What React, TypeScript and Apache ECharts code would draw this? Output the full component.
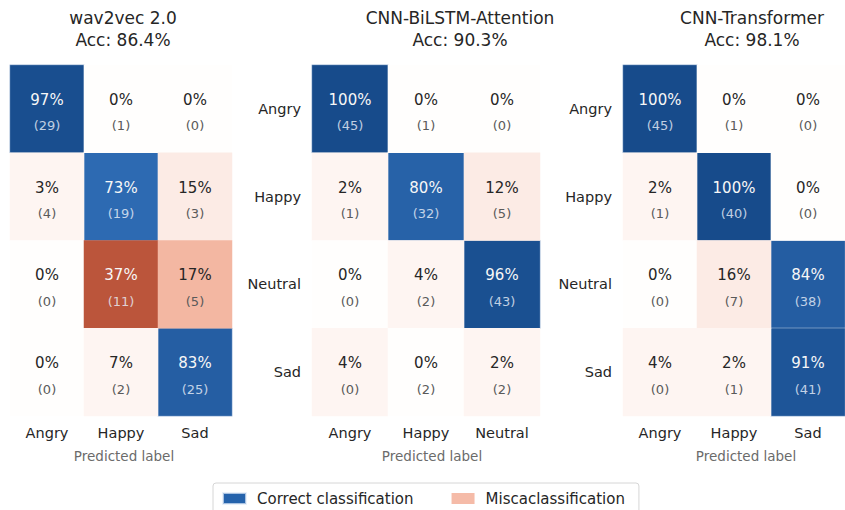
import React, { useEffect, useRef } from "react";
import * as echarts from "echarts";

// ---------- data ----------
const rowLabels = ["Angry", "Happy", "Neutral", "Sad"];
const modelNames = ["wav2vec 2.0", "CNN-BiLSTM-Attention", "CNN-Transformer"];
const accuracies = ["86.4%", "90.3%", "98.1%"];
const axisTitle = "Predicted label";
const legendNames = ["Correct classification", "Miscaclassification"];

const colLabels1 = ["Angry", "Happy", "Sad"];
const pct1 = [
  [97, 0, 0],
  [3, 73, 15],
  [0, 37, 17],
  [0, 7, 83],
];
const cnt1 = [
  [29, 1, 0],
  [4, 19, 3],
  [0, 11, 5],
  [0, 2, 25],
];
const correct1 = [
  [0, 0],
  [1, 1],
  [3, 2],
];

const colLabels2 = ["Angry", "Happy", "Neutral"];
const pct2 = [
  [100, 0, 0],
  [2, 80, 12],
  [0, 4, 96],
  [4, 0, 2],
];
const cnt2 = [
  [45, 1, 0],
  [1, 32, 5],
  [0, 2, 43],
  [0, 2, 2],
];
const correct2 = [
  [0, 0],
  [1, 1],
  [2, 2],
];

const colLabels3 = ["Angry", "Happy", "Sad"];
const pct3 = [
  [100, 0, 0],
  [2, 100, 0],
  [0, 16, 84],
  [4, 2, 91],
];
const cnt3 = [
  [45, 1, 0],
  [1, 40, 0],
  [0, 7, 38],
  [0, 1, 41],
];
const correct3 = [
  [0, 0],
  [1, 1],
  [2, 2],
  [3, 2],
];

const panels = [
  { cols: colLabels1, pct: pct1, cnt: cnt1, correct: correct1 },
  { cols: colLabels2, pct: pct2, cnt: cnt2, correct: correct2 },
  { cols: colLabels3, pct: pct3, cnt: cnt3, correct: correct3 },
];

// ---------- layout / style ----------
const FONT = "DejaVu Sans";
const gridLayout = [
  { left: 10, width: 222, showY: false, titleX: 123, axisTitleX: 124 },
  { left: 312, width: 228, showY: true, titleX: 460, axisTitleX: 432 },
  { left: 623, width: 228, showY: true, titleX: 752, axisTitleX: 746 },
];
const GRID_TOP = 65;
const GRID_H = 351;

const BLUE_LOW = "#2f6db6";
const BLUE_HIGH = "#174b8b";

export default function App() {
  const ref = useRef<HTMLDivElement>(null);

  useEffect(() => {
    if (!ref.current) return;
    const chart = echarts.init(ref.current, null, { renderer: "svg" });

    const grid: any[] = [];
    const xAxis: any[] = [];
    const yAxis: any[] = [];
    const series: any[] = [];
    const visualMap: any[] = [];
    const title: any[] = [];

    const rich = {
      pw: { fontFamily: FONT, fontSize: 15, color: "#f7f7f7", lineHeight: 26 },
      cw: { fontFamily: FONT, fontSize: 13, color: "rgba(232,238,248,0.82)", lineHeight: 26 },
      pd: { fontFamily: FONT, fontSize: 15, color: "#262626", lineHeight: 26 },
      cd: { fontFamily: FONT, fontSize: 13, color: "#5a5a5a", lineHeight: 26 },
    };

    panels.forEach((p, i) => {
      const g = gridLayout[i];
      grid.push({ left: g.left, top: GRID_TOP, width: g.width, height: GRID_H, containLabel: false });
      xAxis.push({
        type: "category",
        gridIndex: i,
        data: p.cols,
        axisLine: { show: false },
        axisTick: { show: false },
        splitLine: { show: false },
        axisLabel: { fontFamily: FONT, fontSize: 14.5, color: "#262626", margin: 9 },
      });
      yAxis.push({
        type: "category",
        gridIndex: i,
        data: rowLabels,
        inverse: true,
        axisLine: { show: false },
        axisTick: { show: false },
        splitLine: { show: false },
        axisLabel: { show: g.showY, fontFamily: FONT, fontSize: 14.5, color: "#262626", margin: 11 },
      });

      const isCorrect = (r: number, c: number) => p.correct.some(([rr, cc]) => rr === r && cc === c);
      const blueData: any[] = [];
      const redData: any[] = [];
      p.pct.forEach((row, r) =>
        row.forEach((v, c) => {
          const item = [c, r, v, p.cnt[r][c]];
          if (isCorrect(r, c)) blueData.push(item);
          else redData.push(item);
        })
      );

      const mkLabel = (blue: boolean) => ({
        show: true,
        offset: [0, 4],
        formatter: (params: any) => {
          const [, , v, n] = params.value;
          const dark = blue || v >= 30;
          return dark ? `{pw|${v}%}\n{cw|(${n})}` : `{pd|${v}%}\n{cd|(${n})}`;
        },
        rich,
      });

      const blueIdx = series.length;
      series.push({
        name: legendNames[0],
        type: "heatmap",
        xAxisIndex: i,
        yAxisIndex: i,
        data: blueData,
        itemStyle: { color: BLUE_LOW, borderColor: "rgba(225,235,248,0.7)", borderWidth: 0.6 },
        label: mkLabel(true),
        emphasis: { disabled: true },
      });
      const redIdx = series.length;
      series.push({
        name: legendNames[1],
        type: "heatmap",
        xAxisIndex: i,
        yAxisIndex: i,
        data: redData,
        itemStyle: { color: "#f4b9a6" },
        label: mkLabel(false),
        emphasis: { disabled: true },
      });

      visualMap.push({
        type: "continuous",
        show: false,
        seriesIndex: blueIdx,
        dimension: 2,
        min: 70,
        max: 100,
        inRange: { color: [BLUE_LOW, BLUE_HIGH] },
      });
      visualMap.push({
        type: "piecewise",
        show: false,
        seriesIndex: redIdx,
        dimension: 2,
        pieces: [
          { min: 0, max: 0.5, color: "#fffefd" },
          { gt: 0.5, lt: 10, color: "#fef5f2" },
          { gte: 10, lt: 17, color: "#fcebe5" },
          { gte: 17, lt: 30, color: "#f3b7a2" },
          { gte: 30, color: "#bb553b" },
        ],
      });

      title.push({
        text: `${modelNames[i]}\nAcc: ${accuracies[i]}`,
        left: g.titleX,
        top: 7,
        textAlign: "center",
        padding: 0,
        textStyle: { fontFamily: FONT, fontSize: 17, fontWeight: "normal", color: "#262626", lineHeight: 22 },
      });
      title.push({
        text: axisTitle,
        left: g.axisTitleX,
        top: 449,
        textAlign: "center",
        padding: 0,
        textStyle: { fontFamily: FONT, fontSize: 13.5, fontWeight: "normal", color: "#6b6b6b" },
      });
    });

    chart.setOption({
      animation: false,
      backgroundColor: "#ffffff",
      title,
      grid,
      xAxis,
      yAxis,
      visualMap,
      series,
      legend: {
        left: 213,
        top: 483,
        selectedMode: false,
        backgroundColor: "#ffffff",
        borderColor: "#d6d6d6",
        borderWidth: 1,
        borderRadius: 3,
        padding: [8, 14, 14, 9],
        itemWidth: 23,
        itemHeight: 11,
        itemGap: 38,
        icon: "rect",
        textStyle: { fontFamily: FONT, fontSize: 15, color: "#262626", padding: [0, 0, 0, 6] },
        data: [
          { name: legendNames[0], itemStyle: { color: "#2563ac" } },
          { name: legendNames[1], itemStyle: { color: "#f5bba8" } },
        ],
      },
    });

    return () => chart.dispose();
  }, []);

  return (
    <div style={{ position: "absolute", left: 0, top: 0, width: 845, height: 510 }}>
      <div ref={ref} style={{ width: 845, height: 510 }} />
    </div>
  );
}
